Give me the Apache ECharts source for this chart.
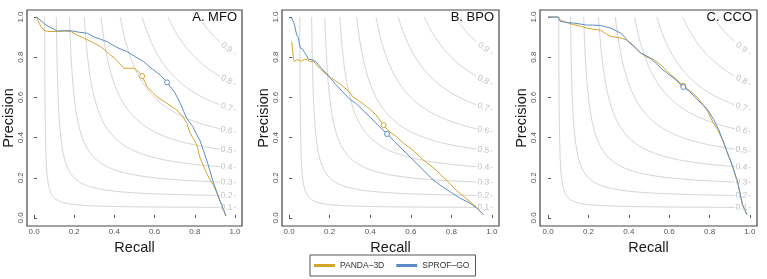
<!DOCTYPE html>
<html>
<head>
<meta charset="utf-8">
<script src="https://cdn.jsdelivr.net/npm/echarts@6/dist/echarts.min.js"></script>
<style>html,body{margin:0;padding:0;background:#fff}#c{width:767px;height:279px}</style>
</head>
<body>
<div id="c"></div>
<script>
// ---- data (recall, precision) ----
const panelTitles = ['A. MFO', 'B. BPO', 'C. CCO'];
const seriesNames = ['PANDA–3D', 'SPROF–GO'];
const tickValues = [0, 0.2, 0.4, 0.6, 0.8, 1.0];
const fLevels = [0.1, 0.2, 0.3, 0.4, 0.5, 0.6, 0.7, 0.8, 0.9];

const mfoPanda = [[0.013,1.0],[0.025,0.97],[0.035,0.952],[0.05,0.935],[0.068,0.928],[0.117,0.928],[0.15,0.93],[0.183,0.928],[0.215,0.91],[0.249,0.894],[0.29,0.875],[0.332,0.852],[0.36,0.83],[0.38,0.81],[0.398,0.8],[0.42,0.775],[0.447,0.745],[0.47,0.745],[0.497,0.745],[0.521,0.728],[0.538,0.706],[0.563,0.653],[0.59,0.625],[0.612,0.603],[0.662,0.57],[0.711,0.537],[0.74,0.505],[0.761,0.47],[0.775,0.425],[0.79,0.4],[0.81,0.363],[0.827,0.297],[0.845,0.255],[0.86,0.222],[0.875,0.19],[0.893,0.164],[0.92,0.1],[0.955,0.01]];
const mfoSprof = [[0.013,1.0],[0.06,0.96],[0.117,0.93],[0.15,0.932],[0.183,0.932],[0.22,0.925],[0.266,0.919],[0.3,0.9],[0.33,0.89],[0.365,0.877],[0.41,0.85],[0.464,0.827],[0.5,0.805],[0.545,0.778],[0.59,0.74],[0.63,0.71],[0.662,0.675],[0.7,0.625],[0.728,0.57],[0.745,0.53],[0.76,0.495],[0.79,0.455],[0.81,0.415],[0.826,0.385],[0.845,0.33],[0.865,0.27],[0.893,0.175],[0.92,0.1],[0.955,0.01]];
const bpoPanda = [[0.013,0.877],[0.018,0.83],[0.022,0.79],[0.026,0.778],[0.038,0.788],[0.05,0.785],[0.063,0.78],[0.075,0.79],[0.088,0.788],[0.1,0.78],[0.12,0.78],[0.15,0.745],[0.196,0.705],[0.245,0.672],[0.295,0.63],[0.314,0.603],[0.36,0.572],[0.4,0.54],[0.428,0.514],[0.466,0.462],[0.494,0.43],[0.527,0.406],[0.56,0.375],[0.61,0.338],[0.66,0.29],[0.724,0.239],[0.79,0.174],[0.823,0.139],[0.86,0.108],[0.921,0.056],[0.958,0.017]];
const bpoSprof = [[0.013,0.995],[0.02,0.98],[0.027,0.96],[0.033,0.93],[0.038,0.91],[0.045,0.9],[0.05,0.87],[0.055,0.846],[0.066,0.84],[0.075,0.825],[0.085,0.81],[0.095,0.79],[0.11,0.788],[0.13,0.78],[0.16,0.745],[0.196,0.705],[0.23,0.665],[0.262,0.63],[0.3,0.59],[0.328,0.572],[0.36,0.54],[0.395,0.506],[0.44,0.46],[0.483,0.418],[0.52,0.38],[0.56,0.34],[0.6,0.3],[0.627,0.274],[0.67,0.23],[0.71,0.19],[0.75,0.16],[0.79,0.133],[0.84,0.1],[0.89,0.075],[0.93,0.045],[0.958,0.017]];
const ccoPanda = [[0,1.0],[0.05,1.0],[0.06,0.985],[0.1,0.97],[0.126,0.962],[0.16,0.955],[0.19,0.945],[0.22,0.94],[0.26,0.934],[0.29,0.915],[0.31,0.904],[0.36,0.896],[0.39,0.885],[0.41,0.871],[0.44,0.84],[0.46,0.82],[0.49,0.8],[0.524,0.788],[0.56,0.76],[0.59,0.73],[0.63,0.695],[0.67,0.658],[0.7,0.635],[0.74,0.6],[0.77,0.56],[0.79,0.53],[0.82,0.47],[0.84,0.44],[0.856,0.406],[0.864,0.39],[0.889,0.323],[0.914,0.257],[0.94,0.174],[0.963,0.066],[0.985,0.017]];
const ccoSprof = [[0,1.0],[0.05,1.0],[0.055,0.99],[0.06,0.978],[0.1,0.972],[0.126,0.97],[0.16,0.965],[0.19,0.96],[0.22,0.96],[0.26,0.958],[0.29,0.95],[0.31,0.945],[0.34,0.93],[0.36,0.92],[0.38,0.9],[0.4,0.875],[0.425,0.854],[0.46,0.82],[0.5,0.8],[0.524,0.78],[0.56,0.745],[0.59,0.72],[0.63,0.69],[0.67,0.652],[0.7,0.63],[0.74,0.589],[0.79,0.54],[0.82,0.49],[0.845,0.44],[0.864,0.39],[0.889,0.323],[0.914,0.257],[0.94,0.174],[0.963,0.066],[0.985,0.017]];
const pandaFmax = [[0.538,0.706],[0.466,0.462],[0.67,0.658]];
const sprofFmax = [[0.662,0.675],[0.483,0.418],[0.67,0.652]];

const pandaCurves = [mfoPanda, bpoPanda, ccoPanda];
const sprofCurves = [mfoSprof, bpoSprof, ccoSprof];

// ---- styling ----
const FONT = '"Liberation Sans", Arial, Helvetica, sans-serif';
const COL_PANDA = '#D4A62C';
const COL_SPROF = '#5B8CC8';
const grids = [
  {left: 26, top: 10, width: 216, height: 216},
  {left: 282, top: 10, width: 217, height: 216},
  {left: 540, top: 10, width: 217, height: 216}
];
const xMins = [-0.035, -0.035, -0.04];
const noHover = {silent: true, emphasis: {disabled: true}, select: {disabled: true}};

// iso-F curve P = f R / (2R - f)
function isoP(f, r) { return f * r / (2 * r - f); }
function isoCurve(f, r1) {
  const rs = f / (2 - f);
  const pts = [];
  const n = 400;
  for (let i = 0; i <= n; i++) {
    const t = i / n;
    const r = rs + (r1 - rs) * t * t * t;
    pts.push([r, isoP(f, r)]);
  }
  return pts;
}
function isoSeg(f, a, b) {
  const pts = [];
  for (let i = 0; i <= 10; i++) { const r = a + (b - a) * i / 10; pts.push([r, isoP(f, r)]); }
  return pts;
}
// line data where the F-max point carries a hollow circle symbol
function withMarker(curve, fmax, color) {
  return curve.map(pt => {
    if (Math.abs(pt[0] - fmax[0]) < 1e-9 && Math.abs(pt[1] - fmax[1]) < 1e-9) {
      return {value: pt, symbol: 'circle', symbolSize: 5,
        itemStyle: {color: '#fff', borderColor: color, borderWidth: 1}};
    }
    return {value: pt, symbol: 'none', symbolSize: 0};
  });
}

const xAxes = [], yAxes = [], series = [], titles = [];
grids.forEach((g, i) => {
  xAxes.push({
    gridIndex: i, type: 'value', min: xMins[i], max: 1.035,
    name: 'Recall', nameLocation: 'middle', nameGap: 3,
    nameTextStyle: {fontSize: 14.5, color: '#1a1a1a', fontFamily: FONT},
    axisLine: {show: false}, splitLine: {show: false}, axisPointer: {show: false},
    axisTick: {show: true, inside: true, length: 3, customValues: tickValues, lineStyle: {color: '#555'}},
    axisLabel: {show: true, customValues: tickValues, margin: 2, fontSize: 8, color: '#555', fontFamily: FONT,
      formatter: v => v.toFixed(1)}
  });
  yAxes.push({
    gridIndex: i, type: 'value', min: -0.04, max: 1.035,
    name: 'Precision', nameLocation: 'middle', nameGap: 11,
    nameTextStyle: {fontSize: 14.5, color: '#1a1a1a', fontFamily: FONT},
    axisLine: {show: false}, splitLine: {show: false}, axisPointer: {show: false},
    axisTick: {show: true, inside: true, length: 3, customValues: tickValues, lineStyle: {color: '#555'}},
    axisLabel: {show: true, customValues: tickValues, margin: 2, rotate: 90, fontSize: 8, color: '#555', fontFamily: FONT,
      formatter: v => v.toFixed(1)}
  });
  // iso-F contours
  fLevels.forEach(f => {
    series.push(Object.assign({type: 'line', xAxisIndex: i, yAxisIndex: i, data: isoCurve(f, 0.925), showSymbol: false,
      symbol: 'none', lineStyle: {color: '#cfcfcf', width: 0.9}, z: 1}, noHover));
    series.push(Object.assign({type: 'line', xAxisIndex: i, yAxisIndex: i, data: isoSeg(f, 0.993, 1.005), showSymbol: false,
      symbol: 'none', lineStyle: {color: '#cfcfcf', width: 0.9}, z: 1}, noHover));
  });
  // contour labels, as mark points on an invisible helper line
  series.push(Object.assign({
    type: 'line', xAxisIndex: i, yAxisIndex: i, data: [], showSymbol: false, symbol: 'none', z: 2,
    markPoint: {
      silent: true, symbol: 'circle', symbolSize: 0, animation: false,
      itemStyle: {color: 'transparent'},
      label: {show: true, position: 'inside', color: '#c2c2c2', fontSize: 8.5, fontFamily: FONT},
      data: fLevels.map(f => {
        const r = 0.958;
        const slope = f * f / Math.pow(2 * r - f, 2);
        const ang = Math.atan(slope) * 180 / Math.PI;
        return {coord: [r, isoP(f, r)], value: f.toFixed(1),
          label: {show: true, formatter: f.toFixed(1), rotate: -ang}};
      })
    }
  }, noHover));
  series.push(Object.assign({name: seriesNames[0], type: 'line', xAxisIndex: i, yAxisIndex: i,
    data: withMarker(pandaCurves[i], pandaFmax[i], COL_PANDA),
    showSymbol: true, showAllSymbol: true, symbol: 'none',
    lineStyle: {color: COL_PANDA, width: 1}, itemStyle: {color: COL_PANDA}, z: 3}, noHover));
  series.push(Object.assign({name: seriesNames[1], type: 'line', xAxisIndex: i, yAxisIndex: i,
    data: withMarker(sprofCurves[i], sprofFmax[i], COL_SPROF),
    showSymbol: true, showAllSymbol: true, symbol: 'none',
    lineStyle: {color: COL_SPROF, width: 1}, itemStyle: {color: COL_SPROF}, z: 4}, noHover));
  titles.push({text: panelTitles[i], right: 767 - (g.left + g.width - 5), top: 11, padding: 0,
    textStyle: {fontSize: 13, fontWeight: 'normal', color: '#111', fontFamily: FONT}});
});

const chart = echarts.init(document.getElementById('c'), null, {renderer: 'canvas'});
chart.setOption({
  animation: false,
  backgroundColor: '#fff',
  title: titles,
  grid: grids.map(g => Object.assign({show: true, borderColor: '#444', borderWidth: 1.2, backgroundColor: 'transparent'}, g)),
  xAxis: xAxes,
  yAxis: yAxes,
  legend: {
    data: seriesNames, left: 310, top: 255, orient: 'horizontal',
    icon: 'rect', itemWidth: 21, itemHeight: 3, itemGap: 12,
    padding: [6, 6, 6, 4], borderColor: '#555', borderWidth: 1,
    selectedMode: false,
    textStyle: {fontSize: 8.5, color: '#333', fontFamily: FONT}
  },
  series: series
});
</script>
</body>
</html>
